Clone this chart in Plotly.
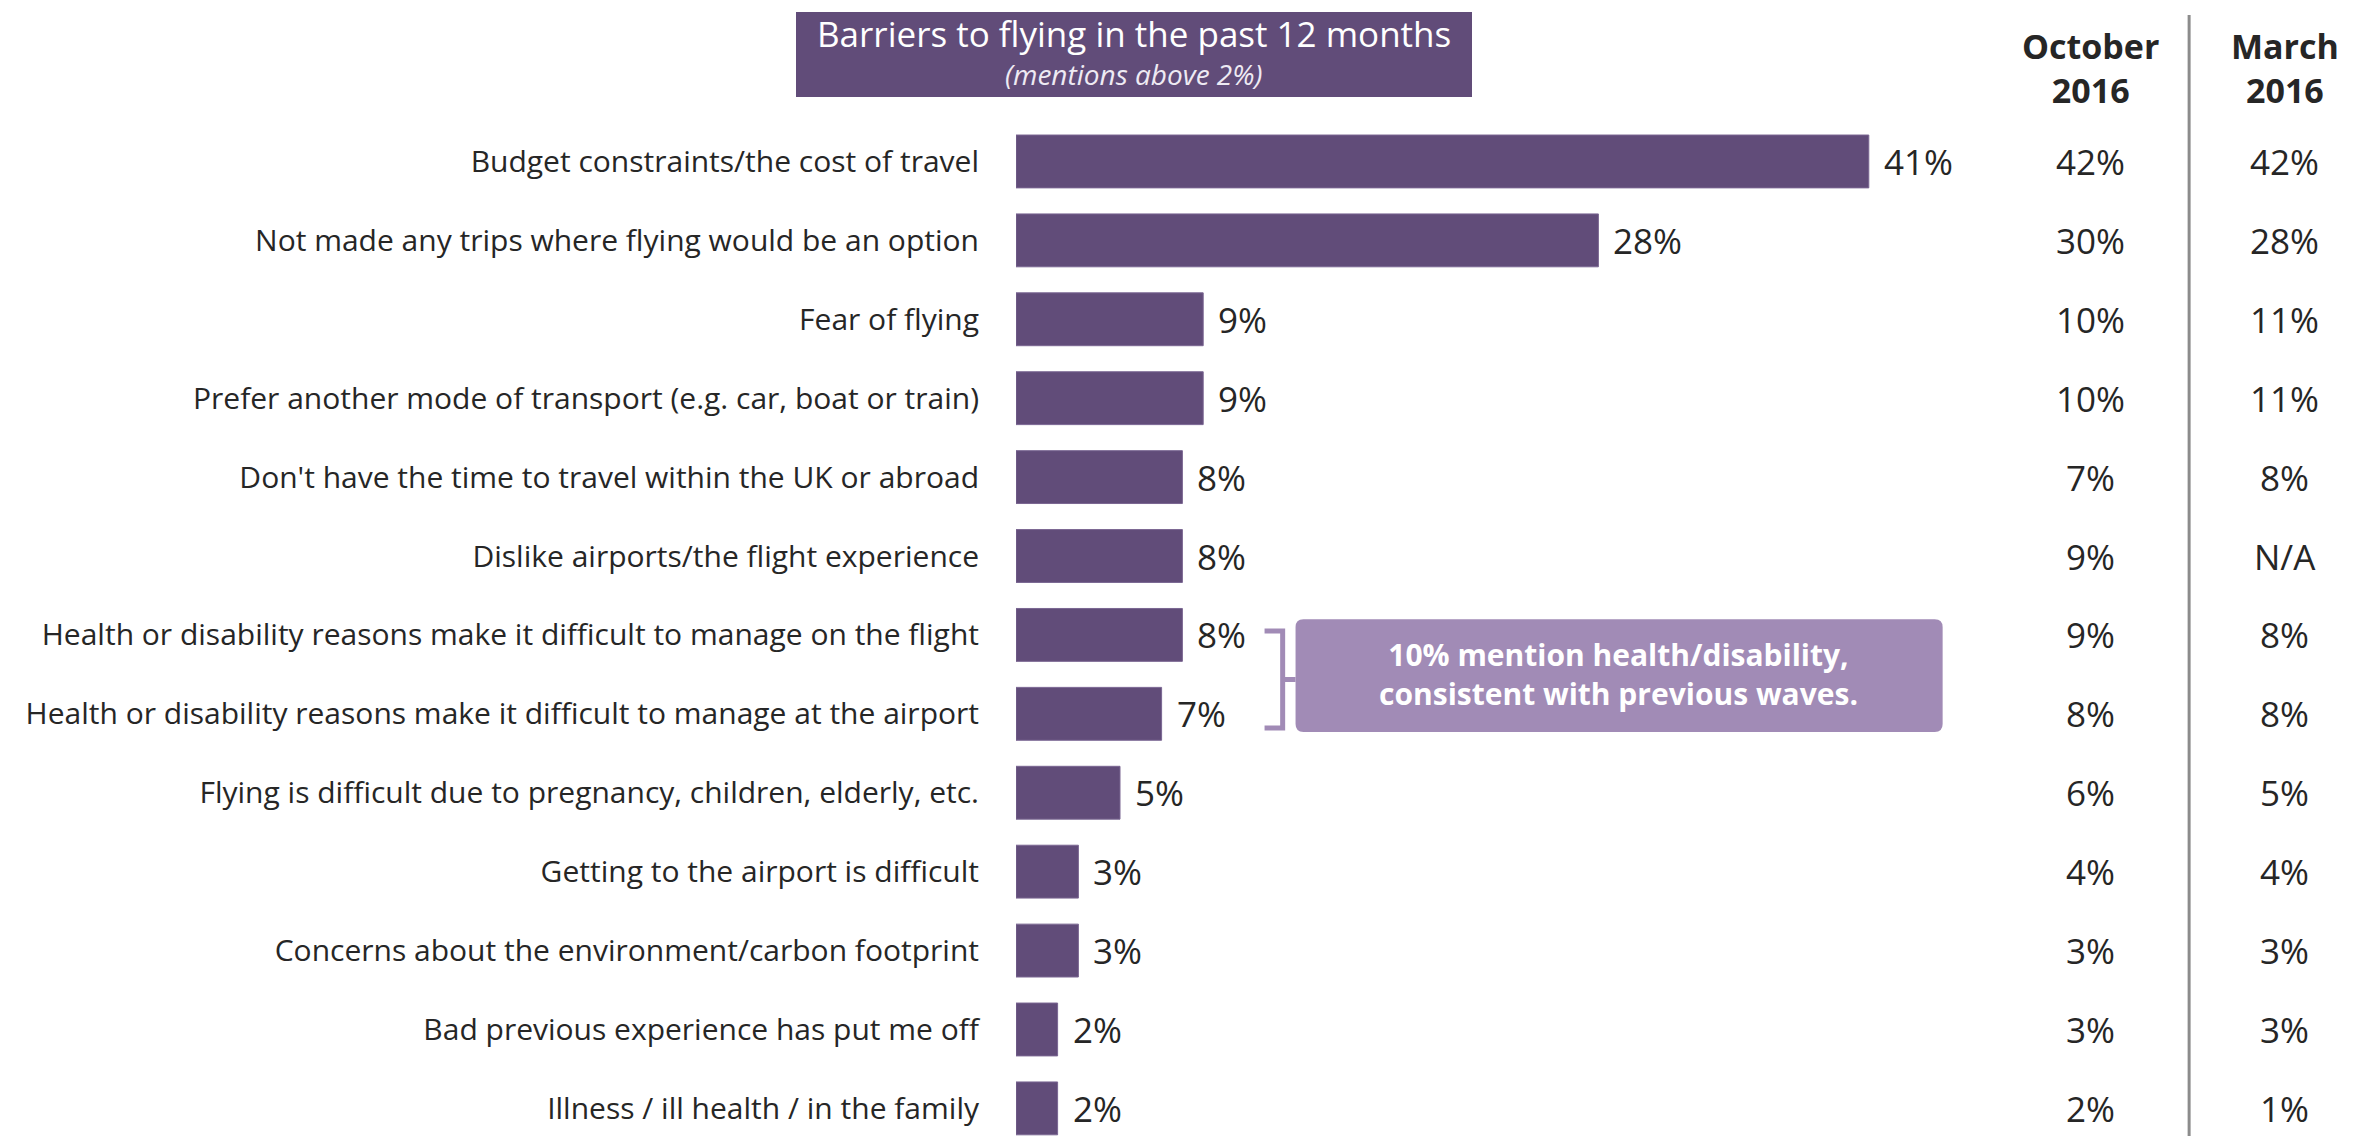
import plotly.graph_objects as go

# Survey results: barriers to flying in the past 12 months
categories = [
    "Budget constraints/the cost of travel",
    "Not made any trips where flying would be an option",
    "Fear of flying",
    "Prefer another mode of transport (e.g. car, boat or train)",
    "Don't have the time to travel within the UK or abroad",
    "Dislike airports/the flight experience",
    "Health or disability reasons make it difficult to manage on the flight",
    "Health or disability reasons make it difficult to manage at the airport",
    "Flying is difficult due to pregnancy, children, elderly, etc.",
    "Getting to the airport is difficult",
    "Concerns about the environment/carbon footprint",
    "Bad previous experience has put me off",
    "Illness / ill health / in the family",
]
current_wave = [41, 28, 9, 9, 8, 8, 8, 7, 5, 3, 3, 2, 2]
october_2016 = ["42%", "30%", "10%", "10%", "7%", "9%", "9%", "8%", "6%", "4%", "3%", "3%", "2%"]
march_2016 = ["42%", "28%", "11%", "11%", "8%", "N/A", "8%", "8%", "5%", "4%", "3%", "3%", "1%"]
column_headers = ["October<br>2016", "March<br>2016"]

BAR = "#614C79"
BOX = "#A18BB6"
TEXT = "#262626"
FONT = "Open Sans"

W, H = 2368, 1136
ML, MT = 1016, 122
x_max = 65.0
plot_h = H - MT

fig = go.Figure()
fig.add_trace(go.Bar(
    x=current_wave, y=categories, orientation="h",
    marker=dict(color=BAR, line=dict(color="#7A6692", width=1)),
    width=0.67, hoverinfo="skip",
))

def paper_y(py):
    return (H - py) / plot_h

annotations = []
# value labels at the bar ends
for cat, v in zip(categories, current_wave):
    annotations.append(dict(x=v, y=cat, xref="x", yref="y", text=f"{v}%",
                            xanchor="left", xshift=13, showarrow=False,
                            font=dict(family=FONT, size=35, color=TEXT)))
# comparison columns
col_x = [51.65, 61.0]
for cx, col in zip(col_x, [october_2016, march_2016]):
    for cat, t in zip(categories, col):
        annotations.append(dict(x=cx, y=cat, xref="x", yref="y", text=t,
                                xanchor="center", showarrow=False,
                                font=dict(family=FONT, size=35, color=TEXT)))
for cx, hdr in zip(col_x, column_headers):
    annotations.append(dict(x=cx, y=paper_y(68), xref="x", yref="paper", text=f"<b>{hdr}</b>",
                            xanchor="center", yanchor="middle", showarrow=False,
                            font=dict(family=FONT, size=34, color=TEXT)))

# title banner
annotations.append(dict(x=(1134 - ML) / (W - ML), y=paper_y(33), xref="paper", yref="paper",
                        text="Barriers to flying in the past 12 months", showarrow=False,
                        xanchor="center", yanchor="middle",
                        font=dict(family=FONT, size=35, color="white")))
annotations.append(dict(x=(1134 - ML) / (W - ML), y=paper_y(74), xref="paper", yref="paper",
                        text="<i>(mentions above 2%)</i>", showarrow=False,
                        xanchor="center", yanchor="middle",
                        font=dict(family=FONT, size=28, color="#EEEAF3")))

# callout text
annotations.append(dict(x=28.99, y=6.5, xref="x", yref="y",
                        text="<b>10% mention health/disability,<br>consistent with previous waves.</b>",
                        showarrow=False, xanchor="center", yanchor="middle",
                        font=dict(family=FONT, size=30, color="white")))

shapes = []
# banner rectangle
shapes.append(dict(type="rect", xref="paper", yref="paper",
                   x0=(796 - ML) / (W - ML), x1=(1472 - ML) / (W - ML),
                   y0=paper_y(97), y1=paper_y(12),
                   fillcolor=BAR, line=dict(width=0), layer="above"))
# column separator
shapes.append(dict(type="line", xref="x", yref="paper", x0=56.4, x1=56.4,
                   y0=0, y1=paper_y(15), line=dict(color="#8C8C8C", width=3)))

# rounded callout box
x0, x1, y0, y1 = 13.44, 44.55, 5.80, 7.23
rx, ry = 0.38, 0.10
path = (f"M {x0+rx},{y0} L {x1-rx},{y0} Q {x1},{y0} {x1},{y0+ry} "
        f"L {x1},{y1-ry} Q {x1},{y1} {x1-rx},{y1} L {x0+rx},{y1} "
        f"Q {x0},{y1} {x0},{y1-ry} L {x0},{y0+ry} Q {x0},{y0} {x0+rx},{y0} Z")
shapes.append(dict(type="path", xref="x", yref="y", path=path,
                   fillcolor=BOX, line=dict(width=0)))
# bracket joining the two health rows
bx0, bx1 = 11.95, 12.82
by0, by1 = 5.95, 7.18
shapes.append(dict(type="path", xref="x", yref="y",
                   path=f"M {bx0},{by0} L {bx1},{by0} L {bx1},{by1} L {bx0},{by1}",
                   line=dict(color=BOX, width=5)))
shapes.append(dict(type="line", xref="x", yref="y", x0=bx1, x1=x0, y0=6.565, y1=6.565,
                   line=dict(color=BOX, width=5)))

fig.update_layout(
    width=W, height=H,
    margin=dict(l=ML, r=0, t=MT, b=0, pad=0),
    paper_bgcolor="white", plot_bgcolor="white",
    showlegend=False,
    annotations=annotations, shapes=shapes,
    xaxis=dict(range=[0, x_max], visible=False, fixedrange=True),
    yaxis=dict(range=[12.35, -0.5], type="category", showgrid=False, zeroline=False,
               showline=False, ticks="outside", ticklen=30, tickcolor="rgba(0,0,0,0)",
               tickfont=dict(family=FONT, size=30, color=TEXT), fixedrange=True),
    font=dict(family=FONT),
)

fig.write_html("out.html")
